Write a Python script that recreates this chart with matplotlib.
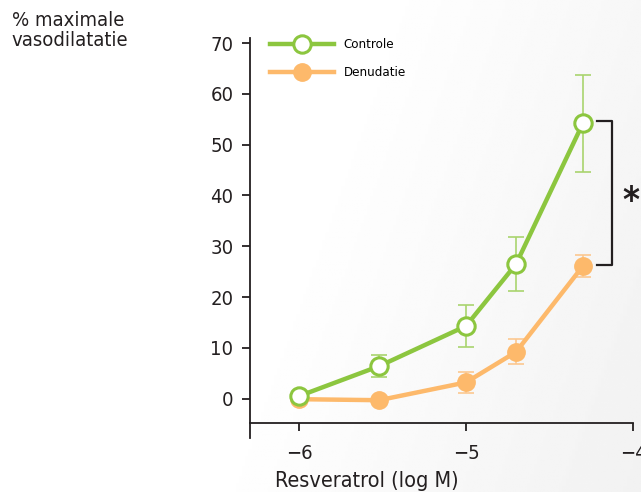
import matplotlib
matplotlib.use("Agg")
import matplotlib.pyplot as plt
import numpy as np

x = [-6, -5.52, -5, -4.70, -4.30]
controle = [0.5, 6.4, 14.3, 26.5, 54.2]
controle_err = [0.0, 2.1, 4.1, 5.4, 9.5]
denudatie = [-0.1, -0.3, 3.2, 9.2, 26.1]
denudatie_err = [0.0, 0.0, 2.1, 2.45, 2.1]
xticks = [-6, -5, -4]
yticks = [0, 10, 20, 30, 40, 50, 60, 70]

green = "#8cc63f"
green_err = "#a9d46e"
orange = "#fdb96b"
orange_err = "#fcc890"
dark = "#231f20"

plt.rcParams['font.family'] = ['DejaVu Sans']
plt.rcParams['font.stretch'] = 'condensed'

fig = plt.figure(figsize=(6.41, 4.92), dpi=100)

# background gradient
bg = fig.add_axes([0, 0, 1, 1], zorder=-10)
gx, gy = np.meshgrid(np.linspace(0, 1, 200), np.linspace(0, 1, 200))
val = np.clip((gx * 1.1 - (1 - gy) * 0.3 - 0.35), 0, 1)
bg.imshow(1 - 0.07 * val, cmap='gray', vmin=0, vmax=1, extent=[0, 1, 0, 1],
          aspect='auto', origin='upper')
bg.axis('off')

ax = fig.add_axes([0.390, 0.1396, 0.5975, 0.7832])
ax.patch.set_alpha(0)

ax.errorbar(x, controle, yerr=controle_err, fmt='none', ecolor=green_err,
            elinewidth=1.2, capsize=6, capthick=1.2, zorder=2)
ax.errorbar(x, denudatie, yerr=denudatie_err, fmt='none', ecolor=orange_err,
            elinewidth=1.2, capsize=6, capthick=1.2, zorder=2)
ax.plot(x, denudatie, color=orange, lw=3.2, marker='o', markersize=12.5,
        markerfacecolor=orange, markeredgecolor=orange, zorder=3,
        label='Denudatie')
ax.plot(x, controle, color=green, lw=3.2, marker='o', markersize=12.5,
        markerfacecolor='white', markeredgecolor=green, markeredgewidth=2.2,
        zorder=4, label='Controle')

ax.set_xlim(-6.293, -4)
ax.set_ylim(-4.85, 71)
ax.set_xticks(xticks)
ax.set_xticklabels([f"\u2212{abs(t)}" for t in xticks])
ax.set_yticks(yticks)
for s in ['top', 'right']:
    ax.spines[s].set_visible(False)
for s in ['left', 'bottom']:
    ax.spines[s].set_color(dark)
    ax.spines[s].set_linewidth(1.3)
ax.spines['left'].set_bounds(-7.8, 71)
ax.tick_params(axis='both', direction='out', length=6, width=1.3, color=dark,
               labelsize=14.5, labelcolor=dark)
ax.tick_params(axis='x', pad=9)
ax.tick_params(axis='y', pad=6)

fig.text(367 / 641, 1 - 481 / 492, 'Resveratrol (log M)', fontsize=15.5,
         color=dark, ha='center', va='center')
fig.text(0.018, 0.978, '% maximale\nvasodilatatie', fontsize=14.5, color=dark,
         va='top', ha='left', linespacing=1.05)

h, l = ax.get_legend_handles_labels()
leg = ax.legend(h[::-1], l[::-1], loc='upper left', bbox_to_anchor=(0.022, 1.03),
                frameon=False, fontsize=9.5, handlelength=4.8, handletextpad=0.75,
                labelspacing=1.15)

# significance bracket
xb0, xb1 = -4.215, -4.128
ax.plot([xb0, xb1, xb1, xb0], [54.6, 54.6, 26.3, 26.3], color=dark, lw=1.6,
        clip_on=False)
ax.text(-4.01, 39.0, '*', fontsize=26, fontweight='bold', color=dark,
        ha='center', va='center', clip_on=False)

fig.savefig('out.png', dpi=100)
